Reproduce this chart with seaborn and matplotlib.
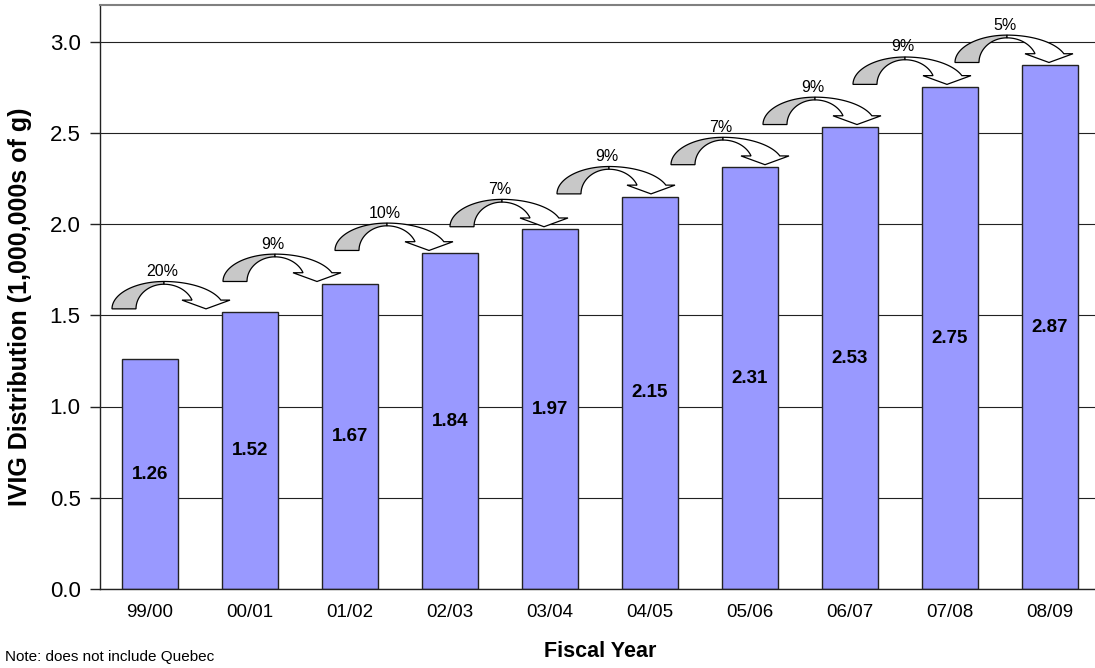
import numpy as np
import pandas as pd
import matplotlib
matplotlib.use("Agg")
import matplotlib.pyplot as plt
from matplotlib.patches import Polygon
import seaborn as sns

# Datos
years = ["99/00", "00/01", "01/02", "02/03", "03/04", "04/05", "05/06", "06/07", "07/08", "08/09"]
ivig = [1.26, 1.52, 1.67, 1.84, 1.97, 2.15, 2.31, 2.53, 2.75, 2.87]
growth = ["20%", "9%", "10%", "7%", "9%", "7%", "9%", "9%", "5%"]
# desplazamiento horizontal de cada flecha (colocadas a mano en el original)
arrow_shift = [-0.38, -0.27, -0.15, 0.00, 0.07, 0.21, 0.13, 0.03, 0.05]

df = pd.DataFrame({"Year": years, "IVIG": ivig})

sns.set_style("white")
plt.rcParams["font.family"] = ["Liberation Sans", "DejaVu Sans"]
plt.rcParams["text.color"] = "black"
plt.rcParams["axes.labelcolor"] = "black"
plt.rcParams["xtick.color"] = "black"
plt.rcParams["ytick.color"] = "black"

fig = plt.figure(figsize=(10.95, 6.68), dpi=100)
ax = fig.add_axes([100 / 1095, 79 / 668, 1000 / 1095, 584 / 668])

sns.barplot(data=df, x="Year", y="IVIG", color="#9999FF", saturation=1,
            edgecolor="#222222", linewidth=1, width=0.56, ax=ax, zorder=2)

ax.set_xlim(-0.5, len(years) - 0.5)
ax.set_ylim(0, 3.2)
ax.set_yticks(np.arange(0, 3.01, 0.5))
ax.set_yticklabels([f"{t:.1f}" for t in np.arange(0, 3.01, 0.5)])
ax.set_axisbelow(True)
ax.yaxis.grid(True, color="#222222", lw=0.8)

# ticks
ax.tick_params(axis="x", which="major", length=0, pad=11, labelsize=13.5)
ax.set_xticks(np.arange(-0.5, len(years)), minor=True)
ax.tick_params(axis="x", which="minor", length=6, width=1, color="#222222", direction="out")
ax.tick_params(axis="y", length=7, width=1, color="#222222", direction="out", pad=7, labelsize=16, left=True)

for s in ["left", "bottom"]:
    ax.spines[s].set_color("#222222")
    ax.spines[s].set_linewidth(1)
ax.spines["top"].set_color("#808080")
ax.spines["top"].set_linewidth(1.5)

# etiquetas de los ejes
ax.set_ylabel("IVIG Distribution (1,000,000s of g)", fontsize=18, fontweight="bold")
ax.yaxis.set_label_coords(-0.068, 0.483)
ax.set_xlabel("Fiscal Year", fontsize=15.5, fontweight="bold")
ax.xaxis.set_label_coords(0.5, -0.089)

# valores dentro de las barras
for i, v in enumerate(ivig):
    ax.text(i, v / 2, f"{v:.2f}", ha="center", va="center", fontsize=13.5,
            fontweight="bold", zorder=4)

# flechas curvas entre barras
h = 0.15
def curved_arrow(f, y0, label):
    cx = f + 0.52
    t = np.linspace(0, np.pi / 2, 40)
    outer_l = np.column_stack([cx - 0.52 * np.cos(t), y0 + h * np.sin(t)])
    inner_l = np.column_stack([cx - 0.28 * np.cos(t), y0 + 0.9 * h * np.sin(t)])
    gray = np.vstack([outer_l, inner_l[::-1]])
    ax.add_patch(Polygon(gray, closed=True, facecolor="#C8C8C8", edgecolor="black",
                         lw=0.9, zorder=5))

    hb = 0.32
    t1 = np.arcsin(hb)
    t2 = np.arcsin(hb / 0.9)
    to = np.linspace(np.pi / 2, t1, 40)
    ti = np.linspace(t2, np.pi / 2, 40)
    outer_r = np.column_stack([cx + 0.6 * np.cos(to), y0 + h * np.sin(to)])
    inner_r = np.column_stack([cx + 0.3 * np.cos(ti), y0 + 0.9 * h * np.sin(ti)])
    yhb = y0 + hb * h
    hx = cx + 0.42
    head = np.array([[hx + 0.24, yhb], [hx, y0], [hx - 0.24, yhb]])
    white = np.vstack([outer_r, head, inner_r])
    ax.add_patch(Polygon(white, closed=True, facecolor="white", edgecolor="black",
                         lw=0.9, zorder=5))
    ax.text(f + 0.5, y0 + h + 0.055, label, ha="center", va="center",
            fontsize=11.5, zorder=6)

for i, lab in enumerate(growth):
    curved_arrow(i + arrow_shift[i], ivig[i + 1] + 0.015, lab)

fig.text(5 / 1095, 1 - 657 / 668, "Note: does not include Quebec", fontsize=11,
         ha="left", va="center")

fig.savefig("out.png", dpi=100)
